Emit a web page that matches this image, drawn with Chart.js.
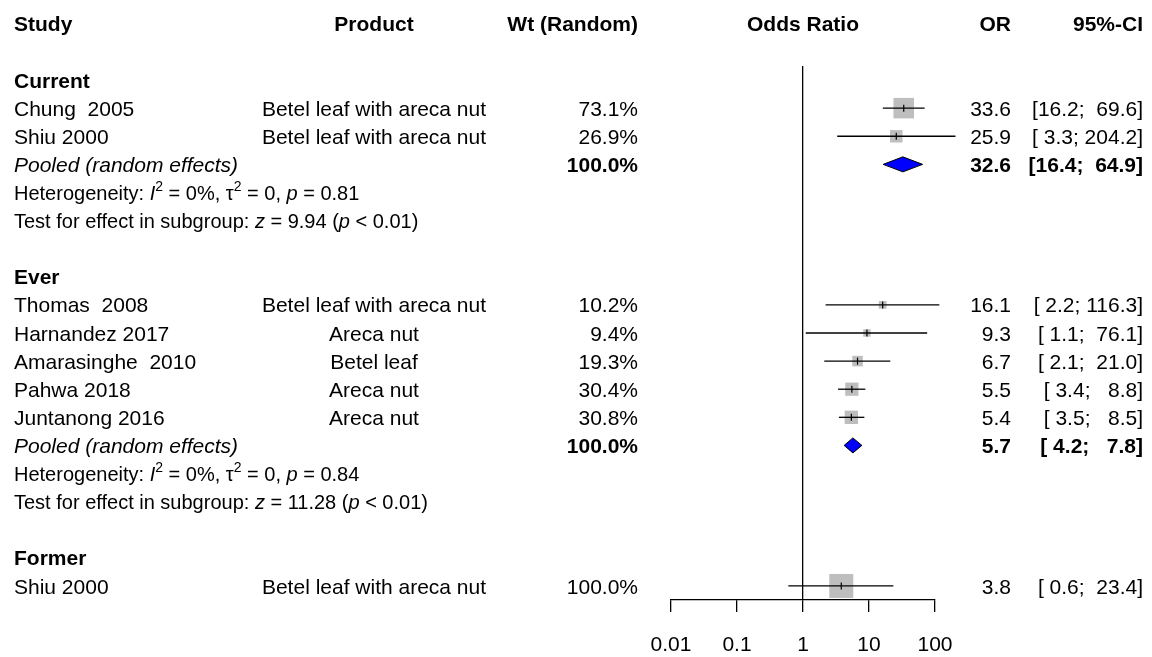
<!DOCTYPE html>
<html>
<head>
<meta charset="utf-8">
<script src="https://cdn.jsdelivr.net/npm/chart.js@4.4.1/dist/chart.umd.min.js"></script>
<style>
  html, body { margin: 0; padding: 0; background: #fff; }
  canvas { display: block; }
</style>
</head>
<body>
<canvas id="forest" width="1152" height="657"></canvas>
<script>
// studies
const studies = ['Chung  2005', 'Shiu 2000', 'Thomas  2008', 'Harnandez 2017', 'Amarasinghe  2010', 'Pahwa 2018', 'Juntanong 2016', 'Shiu 2000'];
const products = ['Betel leaf with areca nut', 'Betel leaf with areca nut', 'Betel leaf with areca nut', 'Areca nut', 'Betel leaf', 'Areca nut', 'Areca nut', 'Betel leaf with areca nut'];
const studyGroup = [0, 0, 1, 1, 1, 1, 1, 2];
const oddsRatio = [33.6, 25.9, 16.1, 9.3, 6.7, 5.5, 5.4, 3.8];
const ciLower = [16.2, 3.3, 2.2, 1.1, 2.1, 3.4, 3.5, 0.6];
const ciUpper = [69.6, 204.2, 116.3, 76.1, 21.0, 8.8, 8.5, 23.4];
const weights = [73.1, 26.9, 10.2, 9.4, 19.3, 30.4, 30.8, 100.0];

// subgroups
const groups = ['Current', 'Ever', 'Former'];
const pooledOR = [32.6, 5.7, null];
const pooledLower = [16.4, 4.2, null];
const pooledUpper = [64.9, 7.8, null];
const hetI2 = ['0%', '0%'];
const hetTau2 = ['0', '0'];
const hetP = ['0.81', '0.84'];
const testZ = ['9.94', '11.28'];
const testP = ['< 0.01', '< 0.01'];

// x axis
const xTicks = [0.01, 0.1, 1, 10, 100];
const xTickLabels = ['0.01', '0.1', '1', '10', '100'];

const FAM = '"Liberation Sans", Arial, Helvetica, sans-serif';

// work out which row every line goes on
let studyRow = [], groupRow = [], pooledRow = [], hetRow = [], testRow = [];
let r = 0;
groups.forEach(function (g, gi) {
  groupRow[gi] = r++;
  studyGroup.forEach(function (sg, si) {
    if (sg === gi) studyRow[si] = r++;
  });
  if (pooledOR[gi] !== null) {
    pooledRow[gi] = r++;
    hetRow[gi] = r++;
    testRow[gi] = r++;
  }
  r++;
});
const lastRow = r - 2;

function ciText(lo, hi) {
  return '[' + lo.toFixed(1).padStart(4) + '; ' + hi.toFixed(1).padStart(5) + ']';
}

// CI whiskers, one dataset each
let ciSets = studies.map(function (s, i) {
  return {
    type: 'scatter',
    showLine: true,
    data: [{x: ciLower[i], y: studyRow[i]}, {x: ciUpper[i], y: studyRow[i]}],
    borderColor: '#000',
    borderWidth: 1.3,
    pointRadius: 0,
    clip: false,
    order: 2
  };
});

let squareSet = {
  type: 'scatter',
  data: oddsRatio.map(function (v, i) { return {x: v, y: studyRow[i]}; }),
  pointStyle: 'rect',
  pointRadius: weights.map(function (w) { return Math.sqrt(w / 100) * 24 / Math.SQRT2; }),
  pointBackgroundColor: '#bebebe',
  pointBorderWidth: 0,
  clip: false,
  order: 3
};

let tickSet = {
  type: 'scatter',
  data: oddsRatio.map(function (v, i) { return {x: v, y: studyRow[i]}; }),
  pointStyle: 'line',
  rotation: 90,
  pointRadius: 3.5,
  pointBorderColor: '#000',
  pointBorderWidth: 1.2,
  clip: false,
  order: 1
};

// pooled diamonds
const diamondPlugin = {
  id: 'diamonds',
  afterDatasetsDraw(chart) {
    const ctx = chart.ctx, xs = chart.scales.x, ys = chart.scales.y;
    ctx.save();
    groups.forEach(function (g, gi) {
      if (pooledOR[gi] === null) return;
      let yc = ys.getPixelForValue(pooledRow[gi]);
      let h = 7.5;
      ctx.beginPath();
      ctx.moveTo(xs.getPixelForValue(pooledLower[gi]), yc);
      ctx.lineTo(xs.getPixelForValue(pooledOR[gi]), yc - h);
      ctx.lineTo(xs.getPixelForValue(pooledUpper[gi]), yc);
      ctx.lineTo(xs.getPixelForValue(pooledOR[gi]), yc + h);
      ctx.closePath();
      ctx.fillStyle = '#0000ff';
      ctx.fill();
      ctx.lineWidth = 1;
      ctx.strokeStyle = '#000';
      ctx.stroke();
    });
    ctx.restore();
  }
};

// all of the table text
const textPlugin = {
  id: 'forestText',
  afterDraw(chart) {
    const ctx = chart.ctx, ys = chart.scales.y, area = chart.chartArea;
    const colStudy = 14, colProduct = 374, colWt = 638, colOR = 1011, colCI = 1143;
    const midPlot = (area.left + area.right) / 2;
    ctx.save();
    ctx.fillStyle = '#000';
    ctx.textBaseline = 'alphabetic';

    function put(s, px, row, align, font, size) {
      ctx.font = font + ' ' + size + 'px ' + FAM;
      ctx.textAlign = align;
      ctx.fillText(s, px, ys.getPixelForValue(row) + 0.36 * size);
    }

    function rich(parts, px, row, size) {
      let base = ys.getPixelForValue(row) + 0.36 * size;
      let cx = px;
      ctx.textAlign = 'left';
      parts.forEach(function (p) {
        let sz = p.sup ? Math.round(size * 0.7) : size;
        ctx.font = (p.it ? 'italic ' : '') + sz + 'px ' + FAM;
        ctx.fillText(p.t, cx, p.sup ? base - size * 0.42 : base);
        cx += ctx.measureText(p.t).width;
      });
    }

    // header
    put('Study', colStudy, -2, 'left', 'bold', 21);
    put('Product', colProduct, -2, 'center', 'bold', 21);
    put('Wt (Random)', colWt, -2, 'right', 'bold', 21);
    put('Odds Ratio', midPlot, -2, 'center', 'bold', 21);
    put('OR', colOR, -2, 'right', 'bold', 21);
    put('95%-CI', colCI, -2, 'right', 'bold', 21);

    groups.forEach(function (g, gi) {
      put(g, colStudy, groupRow[gi], 'left', 'bold', 21);
      if (pooledOR[gi] === null) return;
      put('Pooled (random effects)', colStudy, pooledRow[gi], 'left', 'italic', 21);
      put('100.0%', colWt, pooledRow[gi], 'right', 'bold', 21);
      put(pooledOR[gi].toFixed(1), colOR, pooledRow[gi], 'right', 'bold', 21);
      put(ciText(pooledLower[gi], pooledUpper[gi]), colCI, pooledRow[gi], 'right', 'bold', 21);
      rich([
        {t: 'Heterogeneity: '}, {t: 'I', it: true}, {t: '2', sup: true},
        {t: ' = ' + hetI2[gi] + ', \u03c4'}, {t: '2', sup: true},
        {t: ' = ' + hetTau2[gi] + ', '}, {t: 'p', it: true}, {t: ' = ' + hetP[gi]}
      ], colStudy, hetRow[gi], 20);
      rich([
        {t: 'Test for effect in subgroup: '}, {t: 'z', it: true},
        {t: ' = ' + testZ[gi] + ' ('}, {t: 'p', it: true}, {t: ' ' + testP[gi] + ')'}
      ], colStudy, testRow[gi], 20);
    });

    studies.forEach(function (s, i) {
      put(s, colStudy, studyRow[i], 'left', 'normal', 21);
      put(products[i], colProduct, studyRow[i], 'center', 'normal', 21);
      put(weights[i].toFixed(1) + '%', colWt, studyRow[i], 'right', 'normal', 21);
      put(oddsRatio[i].toFixed(1), colOR, studyRow[i], 'right', 'normal', 21);
      put(ciText(ciLower[i], ciUpper[i]), colCI, studyRow[i], 'right', 'normal', 21);
    });
    ctx.restore();
  }
};

new Chart(document.getElementById('forest'), {
  type: 'scatter',
  data: { datasets: ciSets.concat([squareSet, tickSet]) },
  options: {
    responsive: false,
    animation: false,
    events: [],
    layout: { padding: { left: 671, right: 217, top: 66, bottom: 0 } },
    plugins: { legend: { display: false }, tooltip: { enabled: false } },
    scales: {
      x: {
        type: 'logarithmic',
        position: 'bottom',
        min: 0.01,
        max: 100,
        afterBuildTicks: function (s) { s.ticks = xTicks.map(function (v) { return {value: v}; }); },
        afterFit: function (s) { s.height = 57; },
        ticks: {
          color: '#000',
          font: { family: FAM, size: 21 },
          padding: 21,
          maxRotation: 0,
          autoSkip: false,
          callback: function (v, i) { return xTickLabels[i]; }
        },
        grid: {
          drawOnChartArea: true,
          color: function (c) { return (c.tick && c.tick.value === 1) ? '#000' : 'rgba(0,0,0,0)'; },
          tickColor: '#000',
          tickLength: 12,
          lineWidth: 1.3
        },
        border: { display: true, color: '#000', width: 1.3 }
      },
      y: {
        type: 'linear',
        display: false,
        reverse: true,
        min: -0.5,
        max: lastRow + 0.5
      }
    }
  },
  plugins: [diamondPlugin, textPlugin]
});
</script>
</body>
</html>
